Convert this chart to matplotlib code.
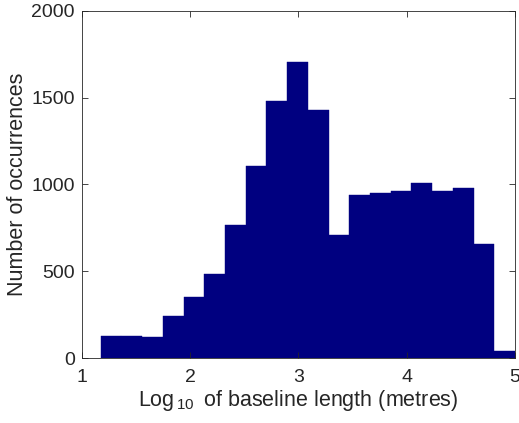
import numpy as np
import matplotlib
matplotlib.use("Agg")
import matplotlib.pyplot as plt

plt.rcParams['font.family'] = ['Liberation Sans', 'DejaVu Sans']
plt.rcParams['mathtext.fontset'] = 'custom'
plt.rcParams['mathtext.rm'] = 'Liberation Sans'

# histogram of log10 baseline lengths, 20 bins
bin_lo = 1.175
bin_hi = 5.0
n_bins = 20
counts = [125, 125, 123, 244, 353, 486, 768, 1106, 1484, 1704,
          1430, 708, 940, 952, 962, 1008, 960, 977, 656, 38]

edges = np.linspace(bin_lo, bin_hi, n_bins + 1)
width = edges[1] - edges[0]

fig = plt.figure(figsize=(5.19, 4.23), dpi=100)
ax = fig.add_axes([81.7 / 519, 1 - 358 / 423, (515 - 81.7) / 519, (358 - 11) / 423])

ax.bar(edges[:-1], counts, width=width, align='edge', color='#000080',
       edgecolor='#000080', linewidth=0.3)

ax.set_xlim(1, 5)
ax.set_ylim(0, 2000)
ax.set_xticks([1, 2, 3, 4, 5])
ax.set_yticks([0, 500, 1000, 1500, 2000])
ax.tick_params(direction='in', top=True, right=True, labelsize=14,
               colors='#262626', length=4, width=0.6)
ax.tick_params(axis='x', pad=8)
ax.tick_params(axis='y', pad=5)
for s in ax.spines.values():
    s.set_color('#262626')
    s.set_linewidth(0.6)

ax.set_xlabel(r'Log$_{\,\mathregular{10}}\,$ of baseline length (metres)', fontsize=15.5,
              color='#262626', labelpad=1)
ax.set_ylabel('Number of occurrences', fontsize=15.5, color='#262626', labelpad=2)

fig.savefig('out.png', dpi=100)
